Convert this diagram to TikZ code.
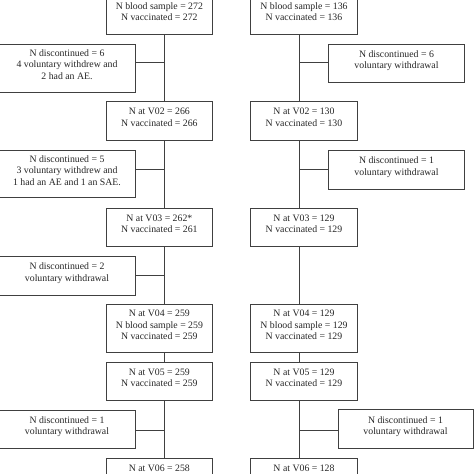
\documentclass[tikz,border=0pt]{standalone}
\usepackage{fontspec}
\setmainfont{Liberation Serif}
\tikzset{
  bx/.style={draw=black!75, line width=0.9pt, fill=white, rectangle, inner sep=0pt, align=center,
    font=\fontsize{9.8pt}{11.3pt}\selectfont, text=black!85, text depth=7pt},
  ln/.style={draw=black!75, line width=0.9pt},
}
\begin{document}
\begin{tikzpicture}[x=1pt,y=-1pt]
\useasboundingbox (0,0) rectangle (474,474);
\clip (0,0) rectangle (474,474);
\fill[white] (0,0) rectangle (474,474);
% trunks and junction heights
\coordinate (tL) at (164,0);
\coordinate (tR) at (299.7,0);
\coordinate (j1) at (0,62.7);
\coordinate (j2) at (0,169);
\coordinate (j3) at (0,275.7);
\coordinate (j4) at (0,430);
% left main column
\node[bx, minimum width=106.7, minimum height=48.7] (L0) at (159.35,9.65) {\vphantom{N}\\N blood sample = 272\\N vaccinated = 272};
\node[bx, minimum width=106.7, minimum height=38.3] (L1) at (159.35,120.85) {N at V02 = 266\\N vaccinated = 266};
\node[bx, minimum width=106.7, minimum height=38.7] (L2) at (159.35,227.35) {N at V03 = 262*\\N vaccinated = 261};
\node[bx, minimum width=106.7, minimum height=48.7] (L3) at (159.35,328.35) {N at V04 = 259\\N blood sample = 259\\N vaccinated = 259};
\node[bx, minimum width=106.7, minimum height=38.4] (L4) at (159.35,381.5) {N at V05 = 259\\N vaccinated = 259};
\node[bx, minimum width=106.7, minimum height=38.7] (L5) at (159.35,477.65) {N at V06 = 258\\\vphantom{N}};
% right main column
\node[bx, minimum width=107.4, minimum height=48.7] (R0) at (304,9.65) {\vphantom{N}\\N blood sample = 136\\N vaccinated = 136};
\node[bx, minimum width=107.4, minimum height=38.3] (R1) at (304,120.85) {N at V02 = 130\\N vaccinated = 130};
\node[bx, minimum width=107.4, minimum height=38.7] (R2) at (304,227.35) {N at V03 = 129\\N vaccinated = 129};
\node[bx, minimum width=107.4, minimum height=48.7] (R3) at (304,328.35) {N at V04 = 129\\N blood sample = 129\\N vaccinated = 129};
\node[bx, minimum width=107.4, minimum height=38.4] (R4) at (304,381.5) {N at V05 = 129\\N vaccinated = 129};
\node[bx, minimum width=107.4, minimum height=38.7] (R5) at (304,477.65) {N at V06 = 128\\\vphantom{N}};
% left discontinued boxes
\node[bx, minimum width=136, minimum height=48] (DL1) at (67,68) {N discontinued = 6\\4 voluntary withdrew and\\2 had an AE.};
\node[bx, minimum width=136, minimum height=47.7] (DL2) at (67,173.85) {N discontinued = 5\\3 voluntary withdrew and\\1 had an AE and 1 an SAE.};
\node[bx, minimum width=136, minimum height=39] (DL3) at (67,275.5) {N discontinued = 2\\voluntary withdrawal};
\node[bx, minimum width=136, minimum height=38.7] (DL4) at (67,429.35) {N discontinued = 1\\voluntary withdrawal};
% right discontinued boxes
\node[bx, minimum width=135.6, minimum height=38.7] (DR1) at (396.5,63.35) {N discontinued = 6\\voluntary withdrawal};
\node[bx, minimum width=135.6, minimum height=39.3] (DR2) at (396.5,169.65) {N discontinued = 1\\voluntary withdrawal};
\node[bx, minimum width=135, minimum height=39.7] (DR4) at (405.5,428.85) {N discontinued = 1\\voluntary withdrawal};
% left trunk
\draw[ln] (L0.south -| tL) -- (L1.north -| tL);
\draw[ln] (L1.south -| tL) -- (L2.north -| tL);
\draw[ln] (L2.south -| tL) -- (L3.north -| tL);
\draw[ln] (L3.south -| tL) -- (L4.north -| tL);
\draw[ln] (L4.south -| tL) -- (L5.north -| tL);
\draw[ln] (DL1.east |- j1) -- (tL |- j1);
\draw[ln] (DL2.east |- j2) -- (tL |- j2);
\draw[ln] (DL3.east |- j3) -- (tL |- j3);
\draw[ln] (DL4.east |- j4) -- (tL |- j4);
% right trunk
\draw[ln] (R0.south -| tR) -- (R1.north -| tR);
\draw[ln] (R1.south -| tR) -- (R2.north -| tR);
\draw[ln] (R2.south -| tR) -- (R3.north -| tR);
\draw[ln] (R3.south -| tR) -- (R4.north -| tR);
\draw[ln] (R4.south -| tR) -- (R5.north -| tR);
\draw[ln] (DR1.west |- j1) -- (tR |- j1);
\draw[ln] (DR2.west |- j2) -- (tR |- j2);
\draw[ln] (DR4.west |- j4) -- (tR |- j4);
\end{tikzpicture}
\end{document}
